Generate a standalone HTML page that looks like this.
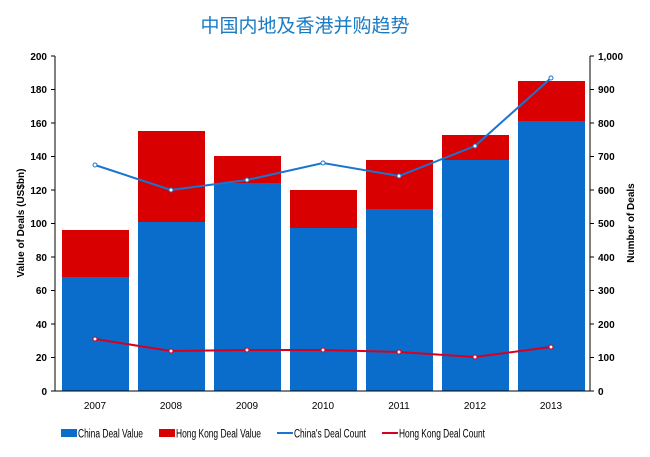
<!DOCTYPE html>
<html><head><meta charset="utf-8"><style>
body{margin:0;background:#fff;}
svg text{font-family:"Liberation Sans",Arial,sans-serif;}
</style></head><body>
<svg width="650" height="452" viewBox="0 0 650 452" xmlns="http://www.w3.org/2000/svg">
<text x="305" y="32" text-anchor="middle" font-size="19" fill="#1a7bc4" style="font-family:'Liberation Sans','Noto Sans CJK SC',sans-serif">中国内地及香港并购趋势</text>
<g font-size="10" font-weight="bold" fill="#000">
<text x="47" y="395" text-anchor="end">0</text>
<text x="47" y="361" text-anchor="end">20</text>
<text x="47" y="328" text-anchor="end">40</text>
<text x="47" y="294" text-anchor="end">60</text>
<text x="47" y="261" text-anchor="end">80</text>
<text x="47" y="227" text-anchor="end">100</text>
<text x="47" y="194" text-anchor="end">120</text>
<text x="47" y="160" text-anchor="end">140</text>
<text x="47" y="127" text-anchor="end">160</text>
<text x="47" y="93" text-anchor="end">180</text>
<text x="47" y="60" text-anchor="end">200</text>
<text x="598" y="395">0</text>
<text x="598" y="361">100</text>
<text x="598" y="328">200</text>
<text x="598" y="294">300</text>
<text x="598" y="261">400</text>
<text x="598" y="227">500</text>
<text x="598" y="194">600</text>
<text x="598" y="160">700</text>
<text x="598" y="127">800</text>
<text x="598" y="93">900</text>
<text x="598" y="60">1,000</text>
<text transform="translate(24,223) rotate(-90)" text-anchor="middle">Value of Deals (US$bn)</text>
<text transform="translate(634,223) rotate(-90)" text-anchor="middle">Number of Deals</text>
</g>
<g>
<rect x="62" y="277" width="67" height="114" fill="#0a6ccb"/><rect x="62" y="230" width="67" height="47" fill="#d80000"/>
<rect x="138" y="222" width="67" height="169" fill="#0a6ccb"/><rect x="138" y="131" width="67" height="91" fill="#d80000"/>
<rect x="214" y="183" width="67" height="208" fill="#0a6ccb"/><rect x="214" y="156" width="67" height="27" fill="#d80000"/>
<rect x="290" y="228" width="67" height="163" fill="#0a6ccb"/><rect x="290" y="190" width="67" height="38" fill="#d80000"/>
<rect x="366" y="209" width="67" height="182" fill="#0a6ccb"/><rect x="366" y="160" width="67" height="49" fill="#d80000"/>
<rect x="442" y="160" width="67" height="231" fill="#0a6ccb"/><rect x="442" y="135" width="67" height="25" fill="#d80000"/>
<rect x="518" y="121" width="67" height="270" fill="#0a6ccb"/><rect x="518" y="81" width="67" height="40" fill="#d80000"/>
</g>
<g stroke="#000" stroke-width="1" fill="none">
<line x1="55" y1="56" x2="55" y2="391"/><line x1="590" y1="56" x2="590" y2="391"/>
<line x1="55" y1="391" x2="590" y2="391"/>
</g>
<g stroke="#000">
<line x1="51" x2="55" y1="391" y2="391"/><line x1="51" x2="55" y1="357.5" y2="357.5"/><line x1="51" x2="55" y1="324" y2="324"/><line x1="51" x2="55" y1="290.5" y2="290.5"/><line x1="51" x2="55" y1="257" y2="257"/><line x1="51" x2="55" y1="223.5" y2="223.5"/><line x1="51" x2="55" y1="190" y2="190"/><line x1="51" x2="55" y1="156.5" y2="156.5"/><line x1="51" x2="55" y1="123" y2="123"/><line x1="51" x2="55" y1="89.5" y2="89.5"/><line x1="51" x2="55" y1="56" y2="56"/>
<line x1="590" x2="594" y1="391" y2="391"/><line x1="590" x2="594" y1="357.5" y2="357.5"/><line x1="590" x2="594" y1="324" y2="324"/><line x1="590" x2="594" y1="290.5" y2="290.5"/><line x1="590" x2="594" y1="257" y2="257"/><line x1="590" x2="594" y1="223.5" y2="223.5"/><line x1="590" x2="594" y1="190" y2="190"/><line x1="590" x2="594" y1="156.5" y2="156.5"/><line x1="590" x2="594" y1="123" y2="123"/><line x1="590" x2="594" y1="89.5" y2="89.5"/><line x1="590" x2="594" y1="56" y2="56"/>
</g>
<polyline points="95,165 171,190 247,180 323,163 399,176 475,146 551,78" fill="none" stroke="#1a74d0" stroke-width="2"/>
<g fill="#fff" stroke="#1a74d0" stroke-width="1"><circle cx="95" cy="165" r="2"/><circle cx="171" cy="190" r="2"/><circle cx="247" cy="180" r="2"/><circle cx="323" cy="163" r="2"/><circle cx="399" cy="176" r="2"/><circle cx="475" cy="146" r="2"/><circle cx="551" cy="78" r="2"/></g>
<polyline points="95,339 171,351 247,350 323,350 399,352 475,357 551,347" fill="none" stroke="#d80020" stroke-width="2"/>
<g fill="#fff" stroke="#d80020" stroke-width="1"><circle cx="95" cy="339" r="2"/><circle cx="171" cy="351" r="2"/><circle cx="247" cy="350" r="2"/><circle cx="323" cy="350" r="2"/><circle cx="399" cy="352" r="2"/><circle cx="475" cy="357" r="2"/><circle cx="551" cy="347" r="2"/></g>
<g font-size="10" fill="#000" text-anchor="middle">
<text x="95" y="409">2007</text><text x="171" y="409">2008</text><text x="247" y="409">2009</text><text x="323" y="409">2010</text><text x="399" y="409">2011</text><text x="475" y="409">2012</text><text x="551" y="409">2013</text>
</g>
<g font-size="11.5" fill="#000">
<rect x="61" y="429" width="16" height="8" fill="#0a6ccb"/><text x="78" y="437.5" textLength="65" lengthAdjust="spacingAndGlyphs">China Deal Value</text>
<rect x="159" y="429" width="16" height="8" fill="#d80000"/><text x="176" y="437.5" textLength="85" lengthAdjust="spacingAndGlyphs">Hong Kong Deal Value</text>
<line x1="277" x2="293" y1="433" y2="433" stroke="#1a74d0" stroke-width="2"/><text x="294" y="437.5" textLength="72" lengthAdjust="spacingAndGlyphs">China's Deal Count</text>
<line x1="382" x2="398" y1="433" y2="433" stroke="#d80020" stroke-width="2"/><text x="399" y="437.5" textLength="86" lengthAdjust="spacingAndGlyphs">Hong Kong Deal Count</text>
</g>
</svg>
</body></html>
